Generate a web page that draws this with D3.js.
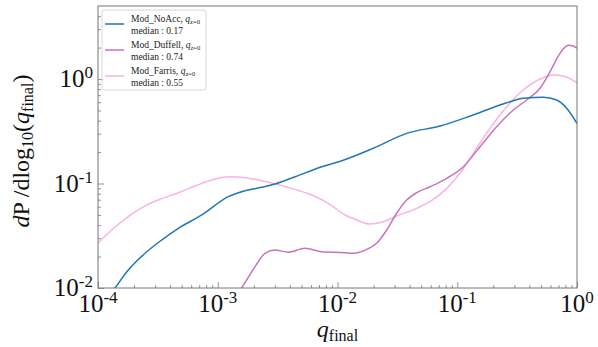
<!DOCTYPE html>
<html><head><meta charset="utf-8">
<script src="https://cdn.jsdelivr.net/npm/d3@7"></script>
<style>body{margin:0;background:#fff}svg{display:block}</style>
</head><body>
<svg id="chart" width="598" height="347"></svg>
<script>
// Mass-ratio distributions dP/dlog10(q_final) for three accretion models
const qNoAcc = [1.20e-4,1.387e-4,1.79e-4,2.47e-4,3.40e-4,4.69e-4,7.35e-4,1.225e-3,1.69e-3,2.33e-3,3.01e-3,4.42e-3,7.38e-3,0.01102,0.0199,0.0378,0.0718,0.136,0.259,0.356,0.524,0.676,0.820,1.0];
const pNoAcc = [0.0080,0.0100,0.01486,0.02148,0.02877,0.03724,0.0500,0.0748,0.0853,0.0920,0.0989,0.1161,0.1449,0.166,0.2173,0.302,0.355,0.453,0.593,0.653,0.668,0.630,0.525,0.375];

const qDuffell = [1.38e-3,1.585e-3,2.05e-3,2.48e-3,3.01e-3,3.88e-3,5.36e-3,7.38e-3,0.01156,0.01355,0.01754,0.02123,0.02576,0.0312,0.0378,0.0458,0.0592,0.0817,0.1125,0.1549,0.2133,0.2938,0.380,0.491,0.596,0.721,0.845,0.931,1.0];
const pDuffell = [0.0078,0.0100,0.0160,0.0215,0.0231,0.0220,0.0240,0.0222,0.0218,0.0215,0.0234,0.0268,0.0359,0.0519,0.0695,0.0817,0.0931,0.1122,0.1449,0.225,0.350,0.505,0.630,0.815,1.175,1.762,2.11,2.07,1.97];

const qFarris = [1.0e-4,1.30e-4,1.79e-4,2.47e-4,3.40e-4,4.69e-4,6.46e-4,8.89e-4,1.225e-3,1.69e-3,2.33e-3,3.21e-3,4.42e-3,6.10e-3,8.38e-3,0.01156,0.01445,0.01866,0.02415,0.0312,0.0458,0.0631,0.0817,0.1054,0.136,0.1875,0.259,0.356,0.491,0.634,0.769,1.0];
const pFarris = [0.0270,0.0359,0.0481,0.0610,0.0716,0.0817,0.0946,0.1079,0.1161,0.1138,0.1064,0.0975,0.0879,0.0776,0.0647,0.0500,0.0448,0.0409,0.0431,0.0489,0.0579,0.0706,0.0899,0.1253,0.1945,0.337,0.543,0.785,1.00,1.091,1.069,0.92];

const seriesNames = ["Mod_NoAcc","Mod_Duffell","Mod_Farris"];
const seriesMedians = ["0.17","0.74","0.55"];
const seriesColors = ["#1f77b4","#c874bd","#f9b3df"];

const xMajor = [1e-4,1e-3,1e-2,1e-1,1];
const xExp = ["-4","-3","-2","-1","0"];
const yMajor = [1e-2,1e-1,1];
const yExp = ["-2","-1","0"];

const m = {left:98, right:577, top:6, bottom:288};
const svg = d3.select("#chart");
const font = "'Liberation Serif','DejaVu Serif',serif";

const x = d3.scaleLog().domain([1e-4,1]).range([m.left,m.right]);
const y = d3.scaleLog().domain([0.01,5]).range([m.bottom,m.top]);

svg.append("defs").append("clipPath").attr("id","plotclip")
  .append("rect").attr("x",m.left).attr("y",m.top)
  .attr("width",m.right-m.left).attr("height",m.bottom-m.top);

// minor tick positions (2..9 per decade)
const xMinor = [];
for (let e=-4;e<0;e++) for (let k=2;k<10;k++) xMinor.push(k*Math.pow(10,e));
const yMinor = [];
for (let e=-2;e<1;e++) for (let k=2;k<10;k++){const v=k*Math.pow(10,e); if(v<5) yMinor.push(v);}

const axisCol = "#777";
function styleAxis(g){
  g.select(".domain").remove();
  g.selectAll("line").attr("stroke",axisCol).attr("stroke-width",0.8);
  g.selectAll("text").remove();
}
svg.append("g").attr("transform",`translate(0,${m.bottom})`)
  .call(d3.axisBottom(x).tickValues(xMajor).tickSize(-6)).call(styleAxis);
svg.append("g").attr("transform",`translate(0,${m.bottom})`)
  .call(d3.axisBottom(x).tickValues(xMinor).tickSize(-3)).call(styleAxis);
svg.append("g").attr("transform",`translate(${m.left},0)`)
  .call(d3.axisLeft(y).tickValues(yMajor).tickSize(-6)).call(styleAxis);
svg.append("g").attr("transform",`translate(${m.left},0)`)
  .call(d3.axisLeft(y).tickValues(yMinor).tickSize(-3)).call(styleAxis);

// curves
const line = d3.line().x(d=>x(d[0])).y(d=>y(d[1])).curve(d3.curveMonotoneX);
const qs = [qNoAcc,qDuffell,qFarris], ps = [pNoAcc,pDuffell,pFarris];
[2,1,0].forEach(i=>{
  svg.append("path").attr("clip-path","url(#plotclip)")
    .datum(qs[i].map((q,j)=>[q,ps[i][j]]))
    .attr("d",line).attr("fill","none")
    .attr("stroke",seriesColors[i]).attr("stroke-width",1.5);
});

// frame
svg.append("rect").attr("x",m.left).attr("y",m.top)
  .attr("width",m.right-m.left).attr("height",m.bottom-m.top)
  .attr("fill","none").attr("stroke",axisCol).attr("stroke-width",1);

// tick labels
xMajor.forEach((v,i)=>{
  const t = svg.append("text").attr("x",x(v)).attr("y",312)
    .attr("text-anchor","middle").attr("font-family",font).attr("font-size",25).attr("fill","#111");
  t.append("tspan").text("10");
  t.append("tspan").attr("dy",-9).attr("font-size",17).text(xExp[i]);
});
yMajor.forEach((v,i)=>{
  const t = svg.append("text").attr("x",93).attr("y",y(v)+8.3)
    .attr("text-anchor","end").attr("font-family",font).attr("font-size",25).attr("fill","#111");
  t.append("tspan").text("10");
  t.append("tspan").attr("dy",-9).attr("font-size",17).text(yExp[i]);
});

// axis titles
const xt = svg.append("text").attr("x",(m.left+m.right)/2).attr("y",337)
  .attr("text-anchor","middle").attr("font-family",font).attr("font-size",24).attr("fill","#111");
xt.append("tspan").attr("font-style","italic").text("q");
xt.append("tspan").attr("dy",4).attr("font-size",16).text("final");

const yt = svg.append("text").attr("transform","translate(29,151) rotate(-90)")
  .attr("text-anchor","middle").attr("font-family",font).attr("font-size",24).attr("fill","#111");
yt.append("tspan").attr("font-style","italic").text("d");
yt.append("tspan").text("P\u2009/dlog");
yt.append("tspan").attr("dy",4).attr("font-size",16).text("10");
yt.append("tspan").attr("dy",-4).text("(");
yt.append("tspan").attr("font-style","italic").text("q");
yt.append("tspan").attr("dy",4).attr("font-size",16).text("final");
yt.append("tspan").attr("dy",-4).text(")");

// legend
const lg = svg.append("g");
lg.append("rect").attr("x",102).attr("y",10).attr("width",104).attr("height",80)
  .attr("rx",2.5).attr("fill","#fff").attr("fill-opacity",0.8).attr("stroke","#ccc").attr("stroke-width",0.8);
seriesNames.forEach((name,i)=>{
  const cy = 24 + i*26;
  lg.append("line").attr("x1",105).attr("x2",124).attr("y1",cy).attr("y2",cy)
    .attr("stroke",seriesColors[i]).attr("stroke-width",1.5);
  const t1 = lg.append("text").attr("x",131).attr("y",cy-2).attr("font-family",font)
    .attr("font-size",9.5).attr("fill","#222");
  t1.append("tspan").text(name+", ");
  t1.append("tspan").attr("font-style","italic").text("q");
  t1.append("tspan").attr("dy",1.5).attr("font-size",6.5).text("z=0");
  lg.append("text").attr("x",131).attr("y",cy+10).attr("font-family",font)
    .attr("font-size",9.5).attr("fill","#222").text("median : "+seriesMedians[i]);
});
</script>
</body></html>
